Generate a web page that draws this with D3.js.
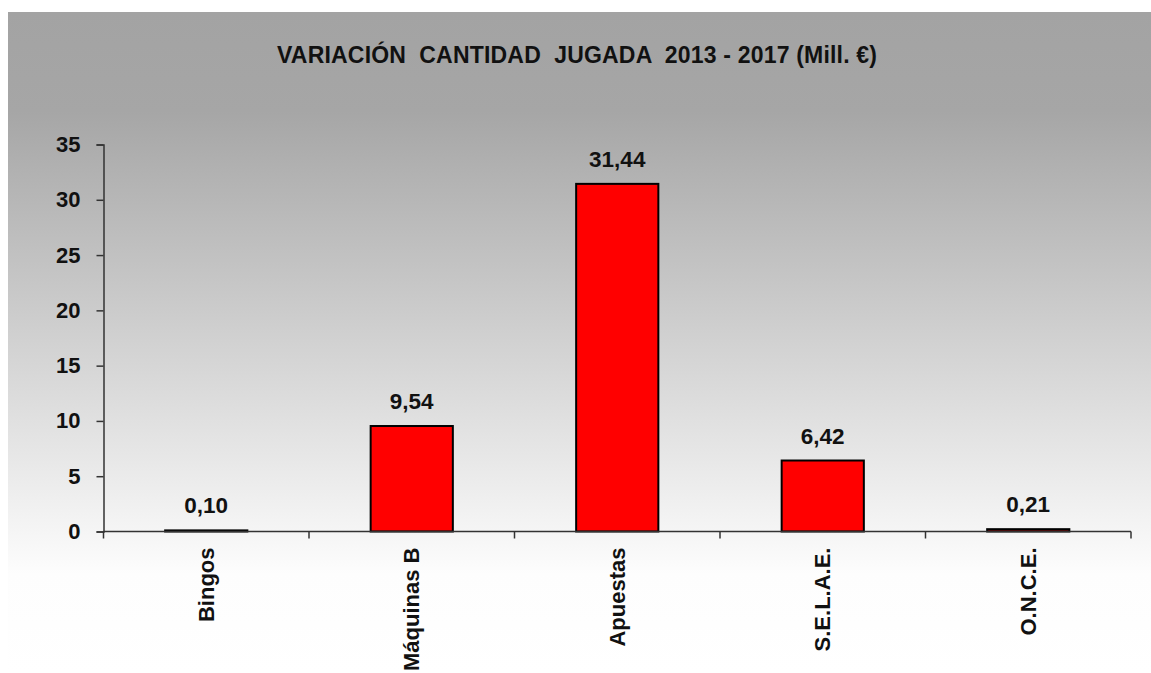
<!DOCTYPE html>
<html>
<head>
<meta charset="utf-8">
<script src="https://cdn.jsdelivr.net/npm/d3@7"></script>
<style>
  body { margin: 0; background: #fff; }
  text { font-family: "Liberation Sans", Arial, sans-serif; font-weight: bold; fill: #111; }
</style>
</head>
<body>
<script>
// data
var categories = ["Bingos", "Máquinas B", "Apuestas", "S.E.L.A.E.", "O.N.C.E."];
var values = [0.10, 9.54, 31.44, 6.42, 0.21];
var yTicks = [0, 5, 10, 15, 20, 25, 30, 35];
var chartTitle = "VARIACIÓN  CANTIDAD  JUGADA  2013 - 2017 (Mill. €)";

var W = 1151, H = 673;
var plot = {left: 103.5, right: 1131, top: 144.5, bottom: 531.5};

var svg = d3.select("body").append("svg")
    .attr("width", W)
    .attr("height", H);

// background gradient
var grad = svg.append("defs").append("linearGradient")
    .attr("id", "bg")
    .attr("x1", 0).attr("y1", 0).attr("x2", 0).attr("y2", 1);
grad.append("stop").attr("offset", "0%").attr("stop-color", "#a3a3a3");
grad.append("stop").attr("offset", "15%").attr("stop-color", "#a6a6a6");
grad.append("stop").attr("offset", "85%").attr("stop-color", "#fdfdfd");
grad.append("stop").attr("offset", "100%").attr("stop-color", "#ffffff");

svg.append("rect")
    .attr("x", 8).attr("y", 12)
    .attr("width", W - 8).attr("height", H - 12)
    .style("fill", "url(#bg)");

// title
svg.append("text")
    .attr("x", 577)
    .attr("y", 63)
    .attr("text-anchor", "middle")
    .attr("textLength", 600)
    .attr("lengthAdjust", "spacing")
    .style("font-size", "23px")
    .style("white-space", "pre")
    .text(chartTitle);

// scales
var x = d3.scaleBand().domain(categories).range([plot.left, plot.right]).padding(0);
var y = d3.scaleLinear().domain([0, 35]).range([plot.bottom, plot.top]);

var barW = x.bandwidth() * 0.4;

// bars
svg.selectAll(".bar")
    .data(values)
    .enter().append("rect")
    .attr("class", "bar")
    .attr("x", function (d, i) { return x(categories[i]) + (x.bandwidth() - barW) / 2 })
    .attr("y", function (d) { return y(d) })
    .attr("width", barW)
    .attr("height", function (d) { return y(0) - y(d) })
    .style("fill", "#ff0000")
    .style("stroke", "#000")
    .style("stroke-width", 2);

// value labels
svg.selectAll(".val")
    .data(values)
    .enter().append("text")
    .attr("class", "val")
    .attr("x", function (d, i) { return x(categories[i]) + x.bandwidth() / 2 })
    .attr("y", function (d) { return y(d) - 17 })
    .attr("text-anchor", "middle")
    .style("font-size", "22.5px")
    .text(function (d) { return d3.format(".2f")(d).replace(".", ",") });

// y axis
var yAxis = svg.append("g")
    .attr("transform", "translate(" + plot.left + ",0)")
    .call(d3.axisLeft(y).tickValues(yTicks).tickSize(7).tickPadding(16).tickFormat(d3.format("d")));
yAxis.selectAll("text").style("font-size", "22px").style("fill", "#111");

// x axis, ticks at category boundaries
var xAxis = svg.append("g")
    .attr("transform", "translate(0," + plot.bottom + ")");
xAxis.append("line")
    .attr("x1", plot.left).attr("x2", plot.right)
    .attr("y1", 0).attr("y2", 0);
xAxis.selectAll(".xtick")
    .data(categories.concat(["_end"]))
    .enter().append("line")
    .attr("class", "xtick")
    .attr("x1", function (d, i) { return i < categories.length ? x(d) : plot.right })
    .attr("x2", function (d, i) { return i < categories.length ? x(d) : plot.right })
    .attr("y1", 0).attr("y2", 7);
xAxis.selectAll(".xlab")
    .data(categories)
    .enter().append("text")
    .attr("class", "xlab")
    .attr("transform", function (d) {
        return "translate(" + (x(d) + x.bandwidth() / 2) + ",16) rotate(-90)";
    })
    .attr("text-anchor", "end")
    .attr("dy", "0.35em")
    .style("font-size", "22px")
    .text(function (d) { return d });

svg.selectAll(".domain, .tick line, .xtick, g line")
    .style("stroke", "#333")
    .style("stroke-width", 1.5);
</script>
</body>
</html>
